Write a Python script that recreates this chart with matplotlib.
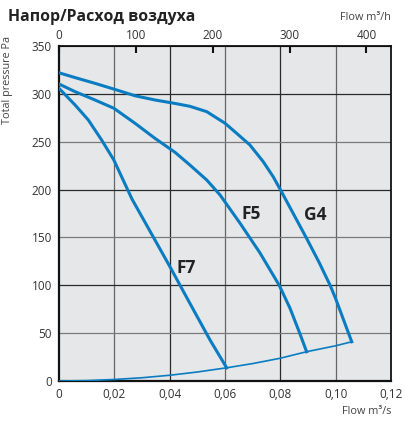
import matplotlib.pyplot as plt

plt.rcParams['font.family'] = ['Open Sans', 'DejaVu Sans']

# fan curves: flow m3/s, total pressure Pa
g4_flow = [0, 0.0058, 0.013, 0.0198, 0.0275, 0.0347, 0.0419, 0.0473, 0.0534, 0.060,
           0.0642, 0.069, 0.0738, 0.0774, 0.080, 0.0895, 0.094, 0.098, 0.100, 0.1058]
g4_pres = [322, 317, 311, 305, 298, 293.6, 290, 287, 281.4, 269.3,
           258.8, 246.6, 229.2, 213.5, 200, 149, 124, 100, 86, 41]

f5_flow = [0, 0.0058, 0.013, 0.0198, 0.0275, 0.0347, 0.0419, 0.0473, 0.0534, 0.0582,
           0.0654, 0.0726, 0.0796, 0.0835, 0.087, 0.0895]
f5_pres = [310.3, 302.3, 293.6, 285, 269.2, 253.5, 239, 225.7, 210, 194.4,
           165, 134, 100, 76, 50, 30.6]

f7_flow = [0, 0.0058, 0.0106, 0.0154, 0.0198, 0.0264, 0.0401, 0.0473, 0.0546, 0.0606]
f7_pres = [305.8, 288.4, 272.7, 251.8, 231, 190, 119.4, 81.2, 42.8, 13.8]

sys_flow = [0, 0.01, 0.02, 0.03, 0.04, 0.05, 0.0606, 0.07, 0.08, 0.0895, 0.1, 0.1058]
sys_pres = [0, 0.4, 1.6, 3.4, 6.0, 9.4, 13.8, 18.2, 23.8, 30.6, 36.8, 41]

x_ticks = [0, 0.02, 0.04, 0.06, 0.08, 0.10, 0.12]
x_labels = ['0', '0,02', '0,04', '0,06', '0,08', '0,10', '0,12']
y_ticks = [0, 50, 100, 150, 200, 250, 300, 350]
top_ticks = [0, 100, 200, 300, 400]

blue = '#0a7cc2'
txt = '#333333'

fig = plt.figure(figsize=(4.06, 4.28), dpi=100)
ax = fig.add_axes([59 / 406, 47 / 428, 332 / 406, 335 / 428])
ax.set_facecolor('#e6e7e9')
ax.set_xlim(0, 0.12)
ax.set_ylim(0, 350)

# grid, alternating gray / dark lines
for i, v in enumerate(x_ticks[1:-1]):
    ax.axvline(v, color='#666666' if i % 2 == 0 else '#2a2a2a', lw=0.9, zorder=1)
for i, v in enumerate(y_ticks[1:-1]):
    ax.axhline(v, color='#7a7a7a' if i % 2 == 0 else '#2a2a2a', lw=0.9, zorder=1)

for fx, fy in [(g4_flow, g4_pres), (f5_flow, f5_pres), (f7_flow, f7_pres)]:
    ax.plot(fx, fy, color=blue, lw=2.2, zorder=3, solid_joinstyle='round')
ax.plot(sys_flow, sys_pres, color=blue, lw=1.2, zorder=3)

ax.text(0.046, 118, 'F7', fontsize=12.5, fontweight='bold', color='#222222', ha='center', va='center')
ax.text(0.0695, 175, 'F5', fontsize=12.5, fontweight='bold', color='#222222', ha='center', va='center')
ax.text(0.0925, 173, 'G4', fontsize=12.5, fontweight='bold', color='#222222', ha='center', va='center')

ax.set_xticks(x_ticks)
ax.set_xticklabels(x_labels)
ax.set_yticks(y_ticks)
ax.tick_params(axis='both', length=0, pad=5, labelsize=8.5, labelcolor=txt)
for s in ax.spines.values():
    s.set_color('#111111')
    s.set_linewidth(1.3)
ax.spines['left'].set_linewidth(1.6)
ax.spines['bottom'].set_linewidth(1.6)

ax.set_ylabel('Total pressure Pa', fontsize=7.8, color='#444444')
ax.yaxis.set_label_coords(-0.14, 0.9)

top = ax.secondary_xaxis('top', functions=(lambda x: x * 3600, lambda x: x / 3600))
top.set_xticks(top_ticks)
top.tick_params(direction='in', length=5, width=1.5, color='#111111', pad=3,
                labelsize=8.5, labelcolor=txt)

fig.text(8 / 406, 1 - 17 / 428, 'Напор/Расход воздуха', fontsize=11.4, fontweight='bold',
         color='#222222', ha='left', va='center')
fig.text(391 / 406, 1 - 17 / 428, 'Flow m³/h', fontsize=7.8, color='#444444',
         ha='right', va='center')
fig.text(391 / 406, 1 - 412 / 428, 'Flow m³/s', fontsize=7.8, color='#444444',
         ha='right', va='center')

fig.savefig('out.png', dpi=100)
